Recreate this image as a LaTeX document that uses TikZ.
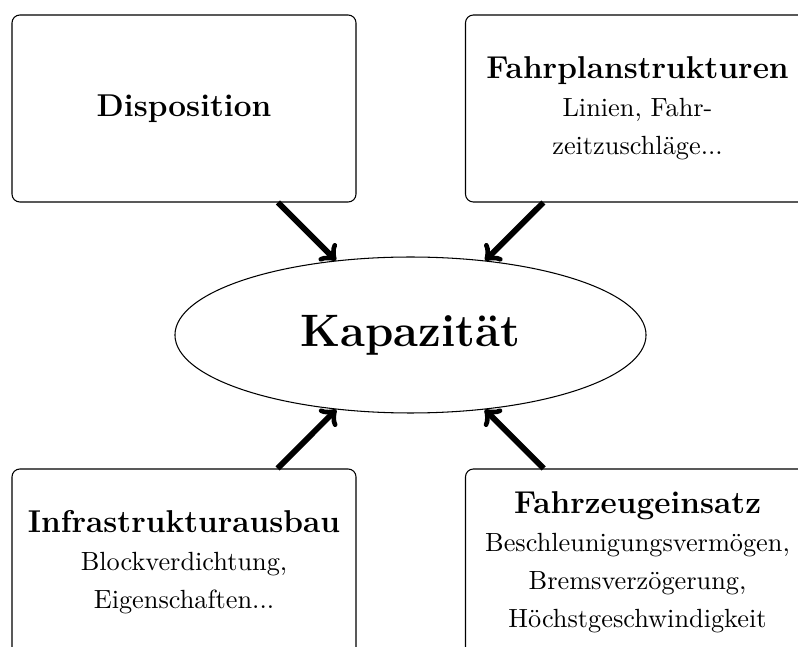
\documentclass[tikz,border=0pt]{standalone}
\usetikzlibrary{shapes.geometric}
\begin{document}
\begin{tikzpicture}[x=0.3802pt,y=-0.3802pt,
  infobox/.style={draw, line width=0.4pt, rounded corners=3pt,
    minimum width=130.8pt, minimum height=71.1pt, inner sep=0pt,
    align=center, font=\fontsize{10pt}{14.5pt}\selectfont},
  hub/.style={draw, line width=0.4pt, ellipse, minimum width=179.1pt,
    minimum height=59.3pt, inner sep=0pt, font=\LARGE\bfseries},
  push/.style={->, line width=2.2pt}]
\useasboundingbox (0,0) rectangle (798,647);
\clip (0,0) rectangle (798,647);

% central goal
\node[hub] (kap) at (410.5,335) {Kapazität};

% influencing factors
\node[infobox] (disp) at (184,108.5) {\large\bfseries Disposition};
\node[infobox] (fpl) at (637.5,108.5)
  {{\large\bfseries Fahrplanstrukturen}\\ Linien, Fahr-\\ zeitzuschläge...};
\node[infobox] (infra) at (184,562.5)
  {{\large\bfseries Infrastrukturausbau}\\ Blockverdichtung,\\ Eigenschaften...};
\node[infobox] (fzg) at (637.5,562.5)
  {{\large\bfseries Fahrzeugeinsatz}\\ Beschleunigungsvermögen,\\ Bremsverzögerung,\\ Höchstgeschwindigkeit};

% effects on capacity
\draw[push] (disp) -- (kap);
\draw[push] (fpl) -- (kap);
\draw[push] (infra) -- (kap);
\draw[push] (fzg) -- (kap);
\end{tikzpicture}
\end{document}
